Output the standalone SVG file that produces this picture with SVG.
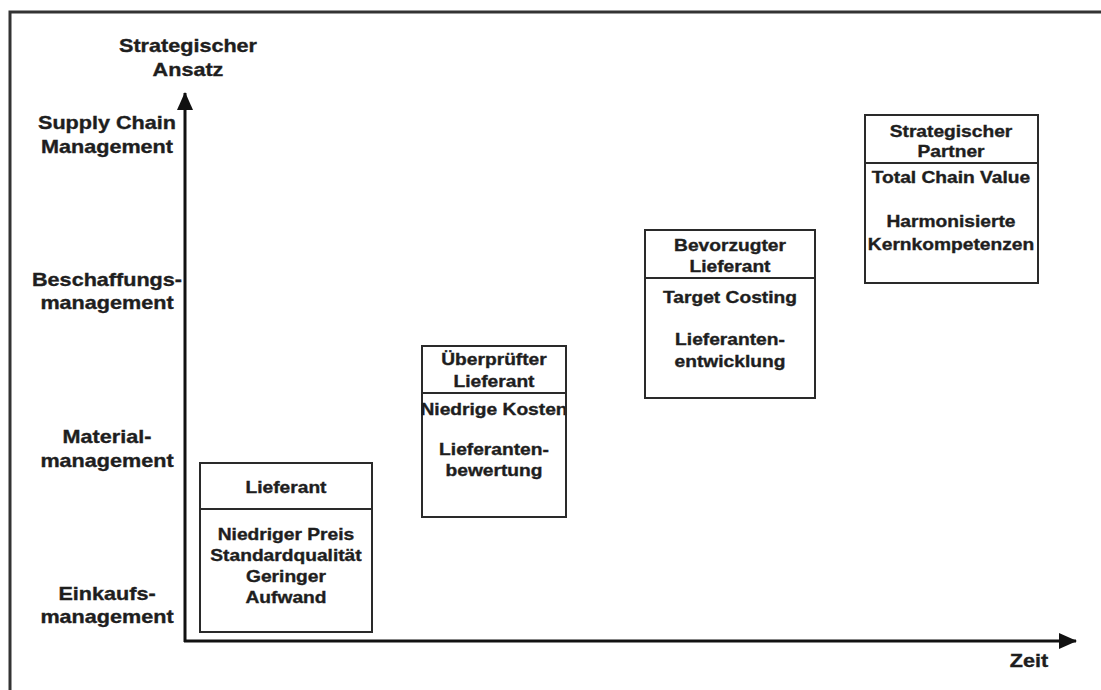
<svg xmlns="http://www.w3.org/2000/svg" width="1101" height="690" viewBox="0 0 1101 690">
  <style>
    text { font-family: "Liberation Sans", Arial, sans-serif; font-weight: bold; fill: #1e1e1e; stroke: #1e1e1e; stroke-width: 0.35; text-anchor: middle; }
    .ax { font-size: 18px; }
    .bx { font-size: 16px; }
    .box { fill: #ffffff; stroke: #2a2a2a; stroke-width: 2; }
    .div { stroke: #2a2a2a; stroke-width: 2; }
    .axis { stroke: #111111; stroke-width: 3; fill: none; }
    .frame { stroke: #333333; stroke-width: 3; fill: none; }
  </style>
  <defs>
    <marker id="arrow" viewBox="0 0 18 16" refX="17" refY="8" markerWidth="18" markerHeight="16" markerUnits="userSpaceOnUse" orient="auto">
      <path d="M0,0 L18,8 L0,16 Z" fill="#111111"/>
    </marker>
  </defs>

  <rect width="1101" height="690" fill="#ffffff"/>

  <!-- outer frame (top and left edges) -->
  <path class="frame" d="M10,690 L10,12 L1101,12"/>

  <!-- axes -->
  <g id="connectors">
    <line class="axis" x1="185" y1="642" x2="185" y2="93" marker-end="url(#arrow)"/>
    <line class="axis" x1="184" y1="641" x2="1076" y2="641" marker-end="url(#arrow)"/>
  </g>

  <!-- all labels use a wide-set sans: each text is placed at its anchor, then stretched 1.2x horizontally -->
  <g id="y-axis-title">
    <text class="ax" transform="translate(188 52) scale(1.2 1)">Strategischer</text>
    <text class="ax" transform="translate(188 76) scale(1.2 1)">Ansatz</text>
  </g>
  <g id="x-axis-title">
    <text class="ax" transform="translate(1029 667) scale(1.2 1)">Zeit</text>
  </g>

  <!-- levels on the vertical axis -->
  <g id="level-scm">
    <text class="ax" transform="translate(107 129) scale(1.2 1)">Supply Chain</text>
    <text class="ax" transform="translate(107 153) scale(1.2 1)">Management</text>
  </g>
  <g id="level-beschaffung">
    <text class="ax" transform="translate(107 286) scale(1.2 1)">Beschaffungs-</text>
    <text class="ax" transform="translate(107 309) scale(1.2 1)">management</text>
  </g>
  <g id="level-material">
    <text class="ax" transform="translate(107 443) scale(1.2 1)">Material-</text>
    <text class="ax" transform="translate(107 467) scale(1.2 1)">management</text>
  </g>
  <g id="level-einkauf">
    <text class="ax" transform="translate(107 600) scale(1.2 1)">Einkaufs-</text>
    <text class="ax" transform="translate(107 623) scale(1.2 1)">management</text>
  </g>

  <!-- stage boxes -->
  <g id="node-lieferant">
    <rect class="box" x="200" y="463" width="172" height="169"/>
    <line class="div" x1="200" y1="509" x2="372" y2="509"/>
    <text class="bx" transform="translate(286 493) scale(1.2 1)">Lieferant</text>
    <text class="bx" transform="translate(286 540) scale(1.2 1)">Niedriger Preis</text>
    <text class="bx" transform="translate(286 561) scale(1.2 1)">Standardqualität</text>
    <text class="bx" transform="translate(286 582) scale(1.2 1)">Geringer</text>
    <text class="bx" transform="translate(286 603) scale(1.2 1)">Aufwand</text>
  </g>

  <g id="node-ueberpruefter-lieferant">
    <rect class="box" x="422" y="346" width="144" height="171"/>
    <text class="bx" transform="translate(494 365) scale(1.2 1)">Überprüfter</text>
    <text class="bx" transform="translate(494 387) scale(1.2 1)">Lieferant</text>
    <text class="bx" transform="translate(494 415) scale(1.2 1)">Niedrige Kosten</text>
    <text class="bx" transform="translate(494 455) scale(1.2 1)">Lieferanten-</text>
    <text class="bx" transform="translate(494 476) scale(1.2 1)">bewertung</text>
    <path d="M566,346 L566,517" stroke="#2a2a2a" stroke-width="2"/>
    <line class="div" x1="422" y1="393" x2="566" y2="393"/>
  </g>

  <g id="node-bevorzugter-lieferant">
    <rect class="box" x="645" y="230" width="170" height="168"/>
    <line class="div" x1="645" y1="278" x2="815" y2="278"/>
    <text class="bx" transform="translate(730 251) scale(1.2 1)">Bevorzugter</text>
    <text class="bx" transform="translate(730 272) scale(1.2 1)">Lieferant</text>
    <text class="bx" transform="translate(730 303) scale(1.2 1)">Target Costing</text>
    <text class="bx" transform="translate(730 345) scale(1.2 1)">Lieferanten-</text>
    <text class="bx" transform="translate(730 367) scale(1.2 1)">entwicklung</text>
  </g>

  <g id="node-strategischer-partner">
    <rect class="box" x="865" y="115" width="173" height="168"/>
    <line class="div" x1="865" y1="163" x2="1038" y2="163"/>
    <text class="bx" transform="translate(951 137) scale(1.2 1)">Strategischer</text>
    <text class="bx" transform="translate(951 157) scale(1.2 1)">Partner</text>
    <text class="bx" transform="translate(951 183) scale(1.2 1)">Total Chain Value</text>
    <text class="bx" transform="translate(951 227) scale(1.2 1)">Harmonisierte</text>
    <text class="bx" transform="translate(951 250) scale(1.2 1)">Kernkompetenzen</text>
    <path d="M1038,115 L1038,283" stroke="#2a2a2a" stroke-width="2"/>
  </g>
</svg>
